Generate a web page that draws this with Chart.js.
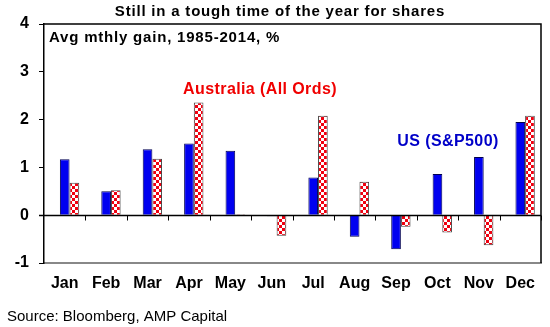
<!DOCTYPE html>
<html>
<head>
<meta charset="utf-8">
<script src="https://cdn.jsdelivr.net/npm/chart.js@4/dist/chart.umd.min.js"></script>
<style>
  html, body { margin: 0; padding: 0; background: #fff; }
  #wrap { position: relative; width: 550px; height: 327px; }
</style>
</head>
<body>
<div id="wrap"><canvas id="chart" width="550" height="327"></canvas></div>
<script>
// data
const months = ["Jan","Feb","Mar","Apr","May","Jun","Jul","Aug","Sep","Oct","Nov","Dec"];
const usGain  = [1.17, 0.50, 1.38, 1.50, 1.35, -0.02, 0.79, -0.45, -0.71, 0.86, 1.22, 1.95];
const ausGain = [0.68, 0.52, 1.18, 2.36, 0.02, -0.43, 2.08, 0.70, -0.24, -0.36, -0.63, 2.08];
const spacer  = months.map(() => null); // empty first series, Excel leaves a gap for it
const yTicks  = [-1, 0, 1, 2, 3, 4];

const title = "Still in a tough time of the year for shares";
const subTitle = "Avg mthly gain, 1985-2014, %";
const ausLabel = "Australia (All Ords)";
const usLabel = "US (S&P500)";
const source = "Source: Bloomberg, AMP Capital";

// red / white check fill
function checker(){
  const c = document.createElement("canvas");
  c.width = 6; c.height = 6;
  const g = c.getContext("2d");
  g.fillStyle = "#fff"; g.fillRect(0,0,6,6);
  g.fillStyle = "#f00010";
  g.fillRect(0,0,3,3); g.fillRect(3,3,3,3);
  return g.createPattern(c, "repeat");
}
const checkFill = checker();

const BOLD = "'Liberation Sans', Arial, sans-serif";

// zero line with tick marks, drawn over the bars like excel
const zeroAxis = {
  id: "zeroAxis",
  afterDatasetsDraw(chart){
    const ctx = chart.ctx, a = chart.chartArea, x = chart.scales.x;
    const y0 = Math.round(chart.scales.y.getPixelForValue(0)) + 0.5;
    const step = (a.right - a.left) / months.length;
    ctx.save();
    ctx.strokeStyle = "#000"; ctx.lineWidth = 1.5;
    ctx.beginPath();
    ctx.moveTo(a.left - 5, y0); ctx.lineTo(a.right, y0);
    ctx.stroke();
    ctx.lineWidth = 1;
    ctx.beginPath();
    for(let i = 1; i <= months.length; i++){
      const px = Math.round(x.left + step * i) + 0.5;
      ctx.moveTo(px, y0); ctx.lineTo(px, y0 + 5);
    }
    ctx.stroke();
    ctx.restore();
  }
};

// texts + frame
const textPlugin = {
  id: "texts",
  afterDraw(chart){
    const ctx = chart.ctx, a = chart.chartArea, y = chart.scales.y;
    ctx.save();
    ctx.strokeStyle = "#000"; ctx.lineWidth = 1.5;
    ctx.beginPath();
    ctx.moveTo(a.left, a.top); ctx.lineTo(a.right, a.top); ctx.lineTo(a.right, a.bottom);
    ctx.stroke();

    ctx.textBaseline = "middle";
    ctx.letterSpacing = "0.8px";
    ctx.font = "bold 15px " + BOLD;
    ctx.fillStyle = "#000";
    ctx.textAlign = "center";
    ctx.fillText(title, 280, 12);

    ctx.textAlign = "left";
    ctx.fillText(subTitle, a.left + 5, y.getPixelForValue(3.72));

    ctx.font = "bold 16px " + BOLD;
    ctx.letterSpacing = "0.4px";
    ctx.textAlign = "center";
    ctx.fillStyle = "#f00000";
    ctx.fillText(ausLabel, 260, y.getPixelForValue(2.62));
    ctx.fillStyle = "#0000c8";
    ctx.fillText(usLabel, 448, y.getPixelForValue(1.55));

    ctx.letterSpacing = "0px";
    ctx.font = "15px " + BOLD;
    ctx.fillStyle = "#000";
    ctx.textAlign = "left";
    ctx.fillText(source, 7, 317);
    ctx.restore();
  }
};

new Chart(document.getElementById("chart"), {
  type: "bar",
  data: {
    labels: months,
    datasets: [
      { label: "", data: spacer },
      { label: usLabel, data: usGain, backgroundColor: "#0000f0", borderColor: "#000050", borderWidth: 1 },
      { label: ausLabel, data: ausGain, backgroundColor: checkFill, borderColor: "#444", borderWidth: 1 }
    ]
  },
  options: {
    responsive: false,
    animation: false,
    events: [],
    layout: { padding: { left: 0, right: 9, top: 24, bottom: 0 } },
    datasets: { bar: { barPercentage: 1, categoryPercentage: 0.7 } },
    plugins: { legend: { display: false }, tooltip: { enabled: false } },
    scales: {
      x: {
        offset: true,
        grid: { display: false },
        border: { display: true, color: "#888", width: 2 },
        ticks: { color: "#000", font: { family: BOLD, size: 16, weight: "bold" }, padding: 3, maxRotation: 0 },
        afterFit(s){ s.height = 64; }
      },
      y: {
        min: -1, max: 4,
        afterBuildTicks(s){ s.ticks = yTicks.map(v => ({ value: v })); },
        grid: { drawOnChartArea: false, drawTicks: true, tickLength: 5, color: "#000" },
        border: { display: true, color: "#000", width: 1.5 },
        ticks: { color: "#000", font: { family: BOLD, size: 16, weight: "bold" }, padding: 10 },
        afterFit(s){ s.width = 44; }
      }
    }
  },
  plugins: [zeroAxis, textPlugin]
});
</script>
</body>
</html>
